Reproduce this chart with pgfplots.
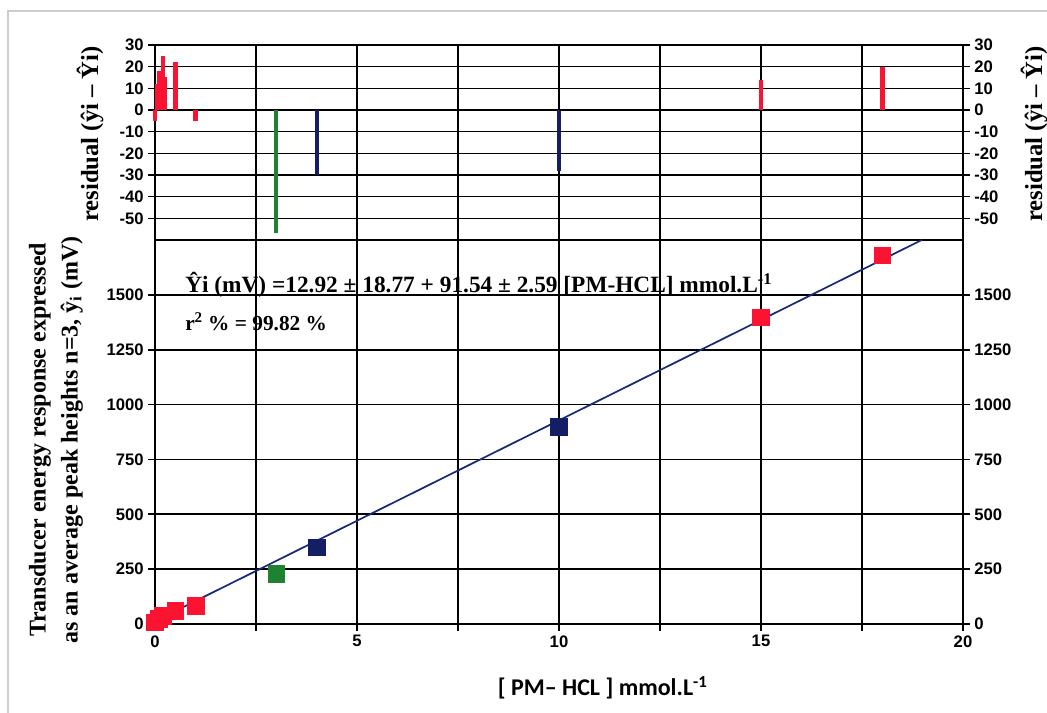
\documentclass[border=0pt]{standalone}
\usepackage{fontspec}
\setmainfont{Liberation Serif}
\newfontfamily\tickfont{Liberation Sans}
\newfontfamily\calfont{Carlito}
\usepackage{pgfplots}
\pgfplotsset{compat=1.18}
\definecolor{myred}{RGB}{250,20,50}
\definecolor{mygreen}{RGB}{30,130,50}
\definecolor{mynavy}{RGB}{20,30,100}
\definecolor{myline}{RGB}{25,40,120}
\definecolor{frame}{RGB}{205,205,205}
\pgfplotsset{
  common/.style={
    scale only axis,
    width=606pt,
    xmin=0, xmax=20,
    clip=false,
    /pgf/number format/assume math mode=true,
    tick label style={font=\tickfont\bfseries\fontsize{12.5}{12.5}\selectfont, black},
    axis line style={black, line width=1.2pt},
    tick style={black, line width=1.2pt},
    major tick length=5pt,
    tick align=outside,
    major grid style={black, line width=1.2pt},
  }
}
\begin{document}
\begin{tikzpicture}
\path[use as bounding box] (0,0) rectangle (785.25pt,534.75pt);
\draw[frame, line width=0.8pt] (6pt,0pt) -- (6pt,526.5pt) -- (785.25pt,526.5pt);

% ---------------- residual panel (left labels)
\begin{axis}[common,
  at={(116.25pt,354.75pt)}, anchor=south west,
  height=146.25pt,
  ymin=-60, ymax=30,
  ytick={-50,-40,-30,-20,-10,0,10,20,30},
  extra y ticks={-60}, extra y tick labels={},
  extra y tick style={major tick length=0pt},
  xtick={0,2.5,5,7.5,10,12.5,15,17.5,20},
  xticklabels={},
  xtick pos=bottom, 
  major x tick style={draw=none},
  ytick pos=left,
  yticklabel pos=left,
  grid=major,
]
\addplot[ycomb, no marks, myred, line width=3.5pt] coordinates {
  (0,-5) (0.05,12) (0.1,18) (0.2,25) (0.25,15) (0.5,22) (1,-5)
  (15,14) (18,20)
};
\addplot[ycomb, no marks, mygreen, line width=3pt] coordinates {(3,-57)};
\addplot[ycomb, no marks, mynavy, line width=3pt] coordinates {(4,-30) (10,-28)};
\end{axis}

% ---------------- residual panel (right labels)
\begin{axis}[common,
  at={(116.25pt,354.75pt)}, anchor=south west,
  height=146.25pt,
  ymin=-60, ymax=30,
  ytick={-50,-40,-30,-20,-10,0,10,20,30},
  axis y line*=right,
  axis x line=none,
  yticklabel pos=right,
]
\addplot[draw=none] coordinates {(0,0)};
\end{axis}

% ---------------- main panel (left labels)
\begin{axis}[common,
  at={(116.25pt,66.75pt)}, anchor=south west,
  height=288pt,
  ymin=0, ymax=1750,
  ytick={0,250,500,750,1000,1250,1500},
  xtick={0,2.5,5,7.5,10,12.5,15,17.5,20},
  xticklabels={0,,5,,10,,15,,20},
  xtick pos=bottom,
  ytick pos=left,
  yticklabel pos=left,
  grid=major,
  scaled y ticks=false,
  /pgf/number format/1000 sep={},
]
\addplot[only marks, mark=square*, mark size=6.3pt, myred] coordinates {
  (0,8) (0.1,22) (0.2,38) (0.5,61) (1,82) (15,1398) (18,1680)
};
\addplot[only marks, mark=square*, mark size=6.3pt, mygreen] coordinates {(3,230)};
\addplot[only marks, mark=square*, mark size=6.3pt, mynavy] coordinates {(4,350) (10,900)};
\addplot[myline, line width=1.3pt] coordinates {(0,12.92) (18.98,1750)};
\end{axis}

% ---------------- main panel (right labels)
\begin{axis}[common,
  at={(116.25pt,66.75pt)}, anchor=south west,
  height=288pt,
  ymin=0, ymax=1750,
  ytick={0,250,500,750,1000,1250,1500},
  axis y line*=right,
  axis x line=none,
  yticklabel pos=right,
  scaled y ticks=false,
  /pgf/number format/1000 sep={},
]
\addplot[draw=none] coordinates {(0,0)};
\end{axis}

% ---------------- texts
\node[anchor=west, font=\bfseries\fontsize{17.5}{18}\selectfont, inner sep=0pt] at (138.75pt,321pt)
  {Ŷi (mV) =12.92 ± 18.77 + 91.54 ± 2.59 [PM-HCL] mmol.L\textsuperscript{-1}};
\node[anchor=west, font=\bfseries\fontsize{16}{17}\selectfont, inner sep=0pt] at (138.75pt,293.25pt)
  {r\textsuperscript{2} \% = 99.82 \%};
\node[rotate=90, align=center, font=\bfseries\fontsize{18}{24}\selectfont, inner sep=0pt] at (42pt,204.75pt)
  {Transducer energy response expressed\\as an average peak heights n=3, ŷ\textsubscript{i} (mV)};
\node[rotate=90, font=\bfseries\fontsize{18.5}{19}\selectfont, inner sep=0pt] at (67.5pt,434.25pt)
  {residual (ŷi – Ŷi)};
\node[rotate=90, font=\bfseries\fontsize{18.5}{19}\selectfont, inner sep=0pt] at (775.5pt,434.25pt)
  {residual (ŷi – Ŷi)};
\node[font=\calfont\bfseries\fontsize{18}{19}\selectfont, inner sep=0pt] at (452pt,18.75pt)
  {[ PM– HCL ] mmol.L\textsuperscript{-1}};
\end{tikzpicture}
\end{document}
